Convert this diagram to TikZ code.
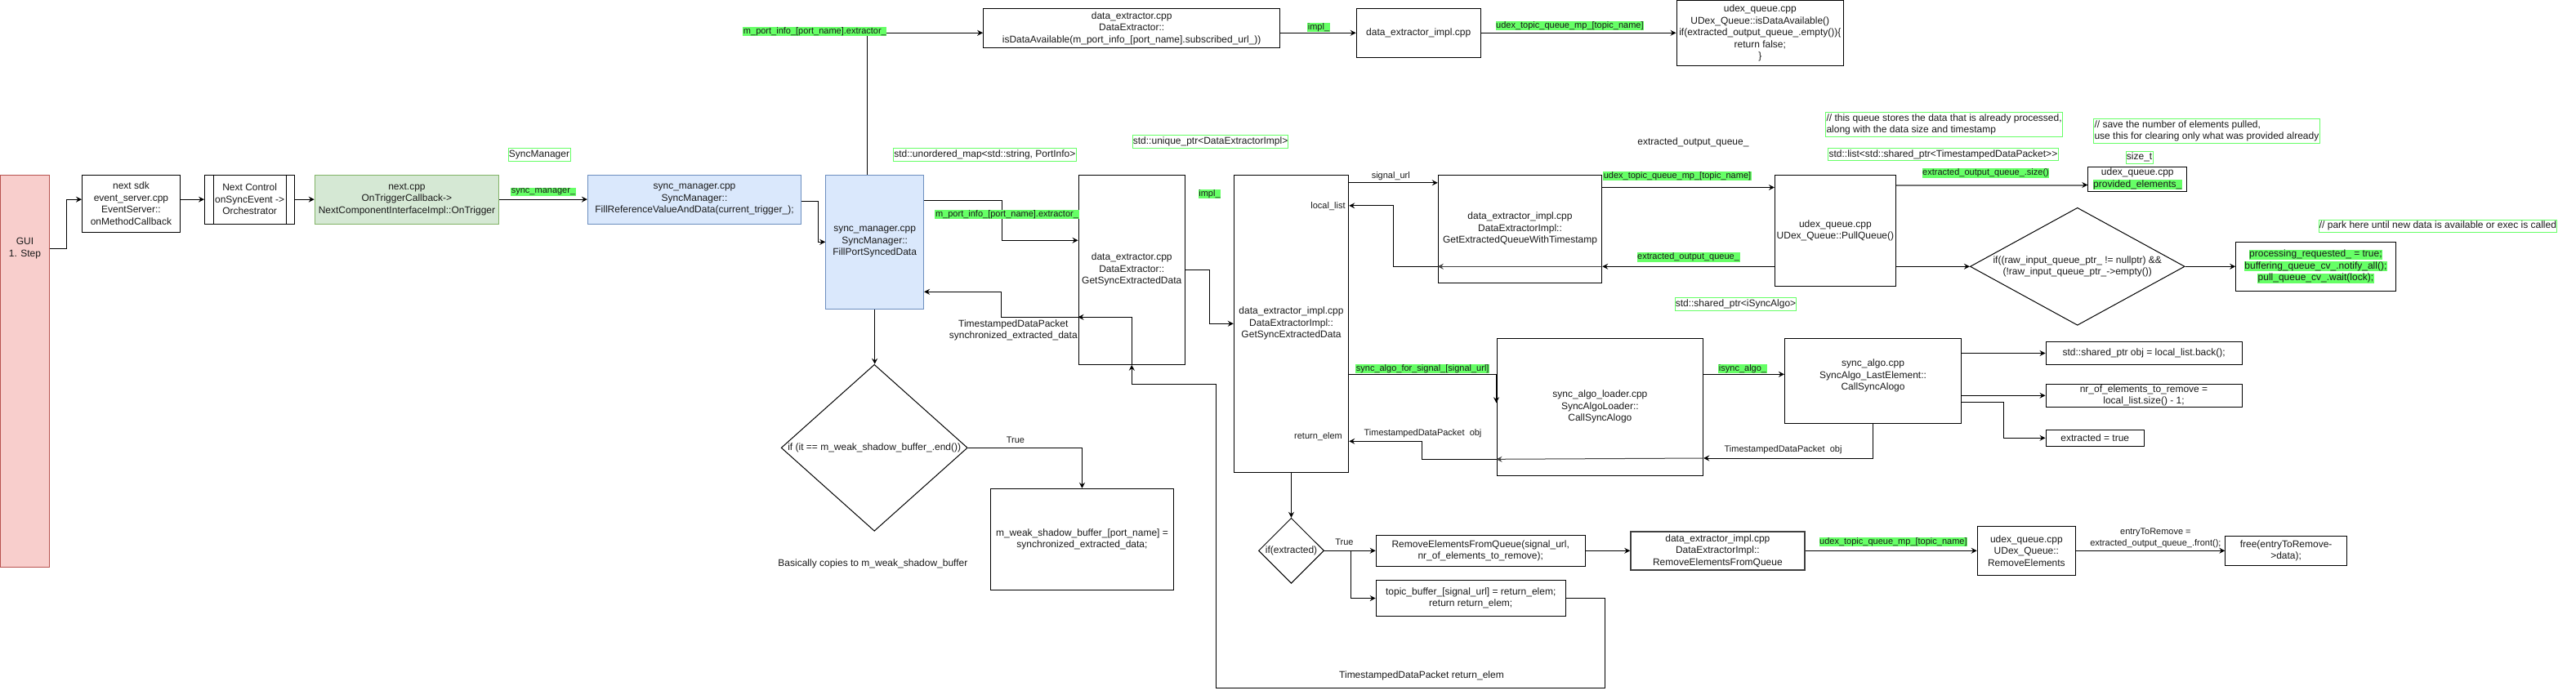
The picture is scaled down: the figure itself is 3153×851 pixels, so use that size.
\documentclass[tikz,border=0pt]{standalone}
\usepackage{fontspec}
\setmainfont{Liberation Sans}
\usetikzlibrary{arrows.meta,shapes.geometric}
\definecolor{hl}{RGB}{102,255,102}
\definecolor{pinkf}{HTML}{F8CECC}\definecolor{pinkd}{HTML}{B85450}
\definecolor{greenf}{HTML}{D5E8D4}\definecolor{greend}{HTML}{82B366}
\definecolor{bluef}{HTML}{DAE8FC}\definecolor{blued}{HTML}{6C8EBF}
\definecolor{txt}{HTML}{1A1A1A}
\newcommand{\fa}{\fontsize{12}{14.5}\selectfont}
\newcommand{\fb}{\fontsize{11}{14}\selectfont}
\newcommand{\hlbox}[1]{{\setlength{\fboxsep}{0.5pt}\colorbox{hl}{#1}}}
\begin{document}
\begin{tikzpicture}[x=1pt,y=-1pt,
  every node/.style={text=txt},
  box/.style={draw=black, line width=1pt, inner sep=0pt, align=center, font=\fa, rectangle},
  arr/.style={line width=1pt, -{Stealth[length=7pt,width=7pt,inset=2.5pt]}},
  ln/.style={line width=1pt},
  hlab/.style={fill=hl, inner sep=0.6pt, font=\fb},
  glab/.style={draw=hl, line width=1pt, inner sep=0pt, font=\fa},
  elab/.style={font=\fb, inner sep=0pt},
  dia/.style={diamond, draw=black, line width=1pt, inner sep=0pt}]
\fill[white] (0,0) rectangle (3153,851);
\useasboundingbox (0,0) rectangle (3153,851);

% ---- left chain
\node[box, draw=pinkd, fill=pinkf, minimum width=60pt, minimum height=480pt] (gui) at (30.5,454) {};
\node[font=\fa, align=center] (guit) at (30.5,304) {GUI\\1. Step};
\node[box, minimum width=120pt, minimum height=70.3pt] (nextsdk) at (160.45,249.15) {next sdk\\event\_server.cpp\\EventServer::\\onMethodCallback};
\node[box, minimum width=110.2pt, minimum height=60.3pt] (nc) at (305.6,244.15) {Next Control\\onSyncEvent ->\\Orchestrator};
\draw[ln] ([xshift=11.2pt]nc.north west) -- ([xshift=11.2pt]nc.south west);
\draw[ln] ([xshift=-11.2pt]nc.north east) -- ([xshift=-11.2pt]nc.south east);
\node[box, draw=greend, fill=greenf, minimum width=225.5pt, minimum height=60.3pt] (ntc) at (497.95,244.15) {next.cpp\\OnTriggerCallback->\\NextComponentInterfaceImpl::OnTrigger};
\node[box, draw=blued, fill=bluef, minimum width=261.2pt, minimum height=60pt] (fillref) at (850,244.3) {sync\_manager.cpp\\SyncManager::\\FillReferenceValueAndData(current\_trigger\_);};
\node[box, draw=blued, fill=bluef, minimum width=119.9pt, minimum height=164pt] (fillport) at (1070.65,296.3) {sync\_manager.cpp\\SyncManager::\\FillPortSyncedData};

\draw[arr] (gui.east |- guit) -- ++(20,0) |- (nextsdk.west |- nc.west);
\draw[arr] (nextsdk.east |- nc.west) -- (nc.west);
\draw[arr] (nc.east) -- (ntc.west);
\draw[arr] (ntc.east) -- (ntc.east -| fillref.west);
\node[hlab] (lsm) at (665,235) {sync\_manager\_};
\node[glab, minimum width=76pt, minimum height=15.6pt] (lsmc) at (660,189.5) {SyncManager};
\draw[arr] ([yshift=-2.2pt]fillref.east) -- ++(20,0) |- (fillport.west);

% ---- top row
\node[box, minimum width=363.2pt, minimum height=48.4pt] (isavail) at (1385.2,34.5) {data\_extractor.cpp\\DataExtractor::\\isDataAvailable(m\_port\_info\_[port\_name].subscribed\_url\_))};
\draw[arr] ([xshift=-9pt]fillport.north) |- ([yshift=-5.8pt]isavail.west);
\node[hlab] (lpi1) at (997.4,38.3) {m\_port\_info\_[port\_name].extractor\_};
\node[box, minimum width=152pt, minimum height=60pt] (deimpl1) at (1736.2,40.3) {data\_extractor\_impl.cpp};
\draw[arr] (isavail.east |- deimpl1.west) -- (deimpl1.west);
\node[hlab] (limpl1) at (1614,33.3) {impl\_};
\node[box, minimum width=204.6pt, minimum height=79.6pt] (udexavail) at (2154.3,40.5) {udex\_queue.cpp\\UDex\_Queue::isDataAvailable()\\if(extracted\_output\_queue\_.empty())\{\\return false;\\\}};
\draw[arr] (deimpl1.east) -- (deimpl1.east -| udexavail.west);
\node[hlab] (ludx1) at (1921.4,31.3) {udex\_topic\_queue\_mp\_[topic\_name]};

% ---- data extractor
\node[box, minimum width=130.5pt, minimum height=232pt] (degse) at (1385.25,330.3) {data\_extractor.cpp\\DataExtractor::\\GetSyncExtractedData};
\draw[arr] ([yshift=-32pt]fillport.north east) -- ++(94.9,0) |- ([yshift=36pt]degse.west);
\node[hlab] (lpi2) at (1232.5,262.3) {m\_port\_info\_[port\_name].extractor\_};
\draw[arr] ([yshift=-58pt]degse.west) -- ++(-94.5,0) |- ([yshift=-61pt]fillport.east);
\node[font=\fa, align=center, inner sep=0pt] (lsync) at (1240.3,404.3) {TimestampedDataPacket\\synchronized\_extracted\_data};
\node[glab, minimum width=223.9pt, minimum height=16.3pt] (lumap) at (1205.35,189.15) {std::unordered\_map<std::string, PortInfo>};
\node[glab, minimum width=189.8pt, minimum height=16pt] (luniq) at (1481.6,173.3) {std::unique\_ptr<DataExtractorImpl>};

\node[box, minimum width=140.4pt, minimum height=364pt] (deimplgse) at (1580.5,396.3) {data\_extractor\_impl.cpp\\DataExtractorImpl::\\GetSyncExtractedData};
\draw[arr] (degse.east) -- ++(29.8,0) |- (deimplgse.west);
\node[hlab] (limpl2) at (1480.5,237.3) {impl\_};

\node[box, minimum width=200.4pt, minimum height=132pt] (degeq) at (1860.5,280.3) {data\_extractor\_impl.cpp\\DataExtractorImpl::\\GetExtractedQueueWithTimestamp};
\draw[arr] ([yshift=-10pt]deimplgse.north east) -- ([yshift=-10pt]deimplgse.north east -| degeq.west);
\node[elab] (lsurl) at (1702.3,215.3) {signal\_url};

\node[box, minimum width=148pt, minimum height=136pt] (pullq) at (2246.4,282.3) {udex\_queue.cpp\\UDex\_Queue::PullQueue()};
\draw[arr] ([yshift=-15.7pt]degeq.north east) -- ([yshift=-15.7pt]degeq.north east -| pullq.west);
\node[hlab] (ludx2) at (2053,215.3) {udex\_topic\_queue\_mp\_[topic\_name]};
\draw[arr] ([yshift=-44pt]pullq.west) -- ([yshift=-44pt]pullq.west -| degeq.east);
\node[hlab] (leoq) at (2066.5,315) {extracted\_output\_queue\_};
\draw[arr, draw=black!75] ([yshift=-46pt]degeq.east) -- ([yshift=-46pt]degeq.west);
\draw[arr] ([yshift=-46pt]degeq.west) -- ++(-54.6,0) |- ([yshift=-38pt]deimplgse.north east);
\node[elab] (llist) at (1625.5,252.3) {local\_list};
\node[font=\fa] (leoqt) at (2072.4,174.7) {extracted\_output\_queue\_};
\node[glab, minimum width=148pt, minimum height=16.3pt] (lisa) at (2124.5,372.15) {std::shared\_ptr<iSyncAlgo>};

% ---- comments, provided elements
\node[glab, align=left, inner xsep=1pt, minimum height=30pt, anchor=west] (lcmt1) at (2234,152.3) {// this queue stores the data that is already processed,\\along with the data size and timestamp};
\node[glab, minimum width=281.2pt, minimum height=15.4pt] (llist2) at (2378.4,189) {std::list<std::shared\_ptr<TimestampedDataPacket>{}>};
\node[box, minimum width=120.9pt, minimum height=30.7pt] (prov) at (2616.25,219.35) {udex\_queue.cpp\\\hlbox{provided\_elements\_}};
\draw[line width=2pt, draw=black!55, -{Stealth[length=7pt,width=7pt,inset=2.5pt,color=black]}] ([yshift=-12.7pt]pullq.north east) -- ([yshift=-12.7pt]pullq.north east -| prov.west);
\node[hlab] (leoqs) at (2430.5,212) {extracted\_output\_queue\_.size()};
\node[glab, align=left, inner xsep=1pt, minimum height=30pt, anchor=west] (lcmt2) at (2562,160.3) {// save the number of elements pulled,\\use this for clearing only what was provided already};
\node[glab, minimum width=33.2pt, minimum height=15pt] (lsize) at (2618.6,192.8) {size\_t};

\node[dia, minimum width=262.7pt, minimum height=144pt] (cond) at (2542.75,326.3) {};
\node[font=\fa, align=center] (condt) at (cond.center) {if((raw\_input\_queue\_ptr\_ != nullptr) \&\&\\(!raw\_input\_queue\_ptr\_->empty())};
\draw[arr] (pullq.east |- cond.west) -- (cond.west);
\node[box, minimum width=195.6pt, minimum height=60pt] (proc) at (2834.4,326.3) {\hlbox{processing\_requested\_ = true;}\\\hlbox{buffering\_queue\_cv\_.notify\_all();}\\\hlbox{pull\_queue\_cv\_.wait(lock);}};
\draw[arr] (cond.east) -- (proc.west);
\node[glab, minimum width=290.8pt, minimum height=15pt] (lpark) at (2983.9,276.8) {// park here until new data is available or exec is called};

% ---- sync algo
\node[box, minimum width=252.7pt, minimum height=168pt] (loader) at (1958.35,498.3) {sync\_algo\_loader.cpp\\SyncAlgoLoader::\\CallSyncAlogo};
\draw[arr] ([yshift=-62pt]deimplgse.east) -| ([yshift=5pt]loader.west);
\node[hlab] (lsafs) at (1741.2,451.3) {sync\_algo\_for\_signal\_[signal\_url]};
\node[box, minimum width=216.3pt, minimum height=104pt] (syncalgo) at (2292.55,466) {sync\_algo.cpp\\SyncAlgo\_LastElement::\\CallSyncAlogo\\\mbox{}};
\draw[arr] ([yshift=40pt]loader.east) -- ([yshift=40pt]loader.east -| syncalgo.west);
\node[hlab] (lisa2) at (2133,451.3) {isync\_algo\_};

\node[box, minimum width=240.3pt, minimum height=27.6pt] (b1) at (2624.15,432.5) {std::shared\_ptr obj = local\_list.back();};
\node[box, minimum width=240pt, minimum height=28pt] (b2) at (2624,484.3) {nr\_of\_elements\_to\_remove =\\local\_list.size() - 1;};
\node[box, minimum width=120.5pt, minimum height=20pt] (b3) at (2564.25,536.3) {extracted = true};
\draw[arr] (syncalgo.east |- b1.west) -- (b1.west);
\draw[arr] (syncalgo.east |- b2.west) -- (b2.west);
\draw[arr] ([yshift=-26.3pt]syncalgo.east) -- ++(51.6,0) |- (b3.west);

\draw[arr] (syncalgo.south) |- ([yshift=-62.7pt]loader.east);
\node[elab] (lobj1) at (2182.5,550.3) {TimestampedDataPacket\ \ obj};
\draw[arr, draw=black!75] ([yshift=-62.7pt]loader.east) -- ([yshift=-64pt]loader.west);
\draw[arr] ([yshift=-64pt]loader.west) -- ++(-91,0) |- ([yshift=-144pt]deimplgse.east);
\node[elab] (lobj2) at (1741.5,530.3) {TimestampedDataPacket\ \ obj};
\node[elab] (lret) at (1613.5,534.3) {return\_elem};

% ---- removal
\node[dia, minimum width=80.1pt, minimum height=80pt] (ifext) at (1580.5,674.3) {};
\node[font=\fa] (ifextt) at (ifext.center) {if(extracted)};
\draw[arr] (deimplgse.south) -- (ifext.north);
\node[box, minimum width=256.1pt, minimum height=37.6pt] (remove) at (1812.25,674.5) {RemoveElementsFromQueue(signal\_url,\\nr\_of\_elements\_to\_remove);};
\node[box, minimum width=232.1pt, minimum height=43.6pt] (tbuf) at (1800.25,732.5) {topic\_buffer\_[signal\_url] = return\_elem;\\return return\_elem;};
\draw[arr] (ifext.east) -- (ifext.east -| remove.west);
\draw[arr] ([xshift=32.2pt]ifext.east) |- (tbuf.west);
\node[elab] (ltrue2) at (1645.4,663.3) {True};
\node[box, draw=black!75, line width=1.6pt, minimum width=212.7pt, minimum height=47.3pt] (deremove) at (2102.35,674.35) {data\_extractor\_impl.cpp\\DataExtractorImpl::\\RemoveElementsFromQueue};
\draw[arr] (remove.east |- deremove.west) -- (deremove.west);
\node[box, minimum width=120.3pt, minimum height=60pt] (udexrm) at (2480.35,674.3) {udex\_queue.cpp\\UDex\_Queue::\\RemoveElements};
\draw[arr] (deremove.east |- udexrm.west) -- (udexrm.west);
\node[hlab] (ludx3) at (2317.4,663.3) {udex\_topic\_queue\_mp\_[topic\_name]};
\node[box, minimum width=148.6pt, minimum height=36pt] (free) at (2798.1,674.3) {free(entryToRemove-\\>data);};
\draw[arr] (udexrm.east) -- (free.west);
\node[elab, align=center] (lentry) at (2638.4,658.5) {entryToRemove =\\extracted\_output\_queue\_.front();};

\draw[arr] (tbuf.east) -- ++(47.7,0) -- ++(0,109.8) -- ++(-476,0) -- ++(0,-372) -| (degse.south);
\node[font=\fa] (lrettb) at (1740,827.7) {TimestampedDataPacket return\_elem};
\draw[arr] (degse.south) |- ([yshift=-58pt]degse.west);

% ---- shadow buffer
\node[dia, minimum width=228.1pt, minimum height=204pt] (shadow) at (1070.2,548.3) {};
\node[font=\fa] (shadowt) at (shadow.center) {if (it == m\_weak\_shadow\_buffer\_.end())};
\draw[arr] (fillport.south) -- (fillport.south |- shadow.north);
\node[box, minimum width=224.5pt, minimum height=124pt] (weak) at (1324.45,660.3) {m\_weak\_shadow\_buffer\_[port\_name] =\\synchronized\_extracted\_data;};
\draw[arr] (shadow.east) -| (weak.north);
\node[elab] (ltrue1) at (1242.9,539) {True};
\node[font=\fa] (lbasic) at (1068.4,690) {Basically copies to m\_weak\_shadow\_buffer};
\end{tikzpicture}
\end{document}
